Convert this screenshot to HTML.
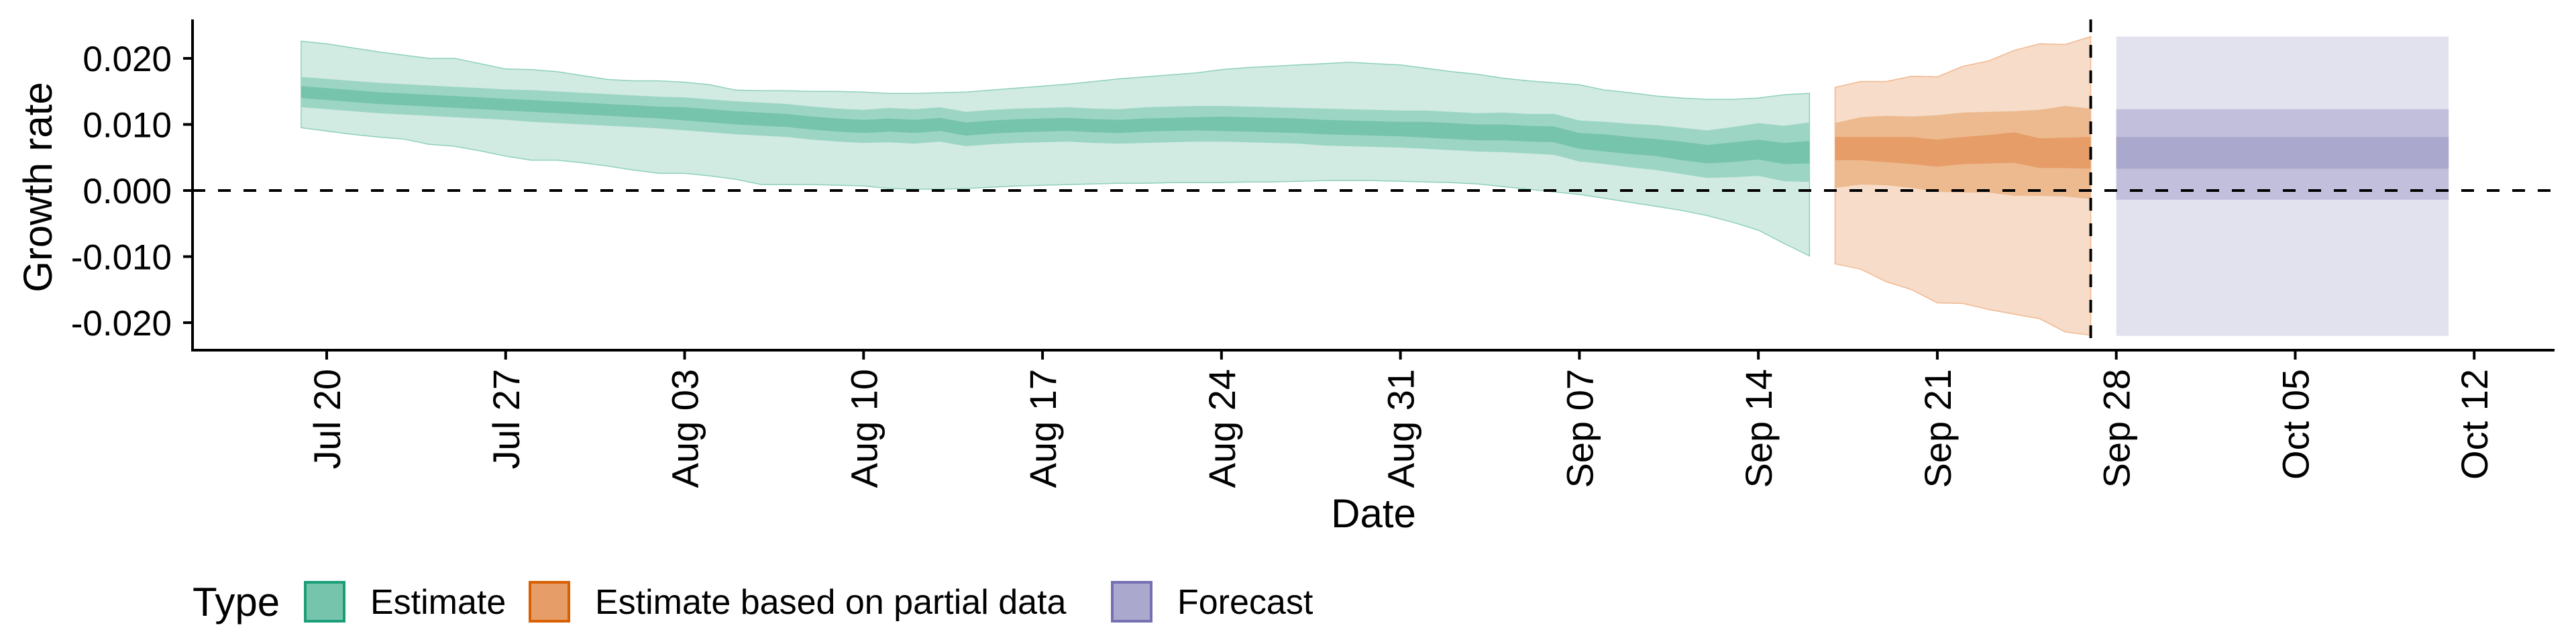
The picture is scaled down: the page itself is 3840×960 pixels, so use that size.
<!DOCTYPE html>
<html><head><meta charset="utf-8"><style>
html,body{margin:0;padding:0;background:#fff}
svg{display:block;font-family:"Liberation Sans",sans-serif}
</style></head><body>
<svg id="chart" width="3840" height="960" viewBox="0 0 3840 960" xmlns="http://www.w3.org/2000/svg">
<g id="bands"></g>
<g id="axes"></g>
<g id="legend"></g>
</svg>
<script>
// ---- data ----
const estStart = "2020-07-19";
const estMed = [.0149,.0146,.0143,.0140,.0138,.0136,.0134,.0132,.0130,.0128,
.0126,.0124,.0122,.0120,.0118,.0116,.0113,.0110,.0108,.0106,
.0102,.0099,.0097,.0099,.0097,.0100,.0093,.0096,.0098,.0099,
.0100,.0098,.0097,.0099,.0100,.0101,.0101,.0100,.0099,.0098,
.0096,.0095,.0094,.0093,.0092,.0090,.0088,.0088,.0086,.0085,
.0075,.0072,.0068,.0065,.0060,.0055,.0058,.0062,.0056,.0058];
const estW20 = [.0009,.0009,.0009,.0009,.0009,.0009,.0009,.0009,.0009,.0009,
.0009,.0009,.0009,.0009,.0009,.0010,.0010,.0010,.0010,.0010,
.0010,.0010,.0010,.0010,.0010,.0010,.0010,.0010,.0010,.0010,
.0010,.0010,.0010,.0010,.0010,.0010,.0011,.0011,.0011,.0011,
.0011,.0011,.0011,.0011,.0012,.0012,.0012,.0012,.0012,.0012,
.0012,.0013,.0013,.0013,.0014,.0014,.0015,.0015,.0016,.0017];
const estW50 = [.0023,.0023,.0023,.0023,.0023,.0023,.0023,.0023,.0023,.0024,
.0024,.0024,.0024,.0024,.0024,.0025,.0025,.0025,.0025,.0025,
.0025,.0025,.0025,.0026,.0026,.0026,.0026,.0026,.0026,.0026,
.0026,.0026,.0026,.0027,.0027,.0027,.0027,.0027,.0027,.0027,
.0028,.0028,.0028,.0028,.0029,.0029,.0029,.0030,.0030,.0031,
.0031,.0032,.0033,.0034,.0035,.0036,.0038,.0040,.0042,.0045];
const estHi90 = [.0226,.0222,.0216,.0210,.0205,.0200,.0200,.0192,.0184,.0183,
.0180,.0174,.0168,.0166,.0166,.0164,.0160,.0152,.0151,.0151,
.0150,.0150,.0149,.0147,.0147,.0148,.0149,.0152,.0155,.0158,
.0161,.0165,.0169,.0172,.0175,.0178,.0183,.0186,.0188,.0190,
.0192,.0194,.0192,.0190,.0185,.0180,.0176,.0170,.0166,.0163,
.0160,.0152,.0148,.0143,.0140,.0138,.0138,.0140,.0145,.0147];
const estLo90 = [.0095,.0090,.0085,.0081,.0078,.0070,.0067,.0060,.0052,.0046,
.0046,.0042,.0037,.0031,.0026,.0026,.0022,.0017,.0009,.0009,
.0009,.0008,.0007,.0003,.0002,.0002,.0003,.0005,.0007,.0008,
.0009,.0010,.0011,.0011,.0012,.0012,.0012,.0013,.0013,.0014,
.0015,.0015,.0015,.0014,.0013,.0012,.0010,.0006,.0002,-.0002,
-.0006,-.0012,-.0018,-.0024,-.0030,-.0038,-.0048,-.0060,-.0080,-.0099];

const partStart = "2020-09-17";
const partHi90 = [.0156,.0165,.0165,.0173,.0172,.0188,.0196,.0212,.0222,.0221,.0233];
const partLo90 = [-.0111,-.0119,-.0138,-.0150,-.0170,-.0171,-.0180,-.0187,-.0194,-.0214,-.0219];
const partHi50 = [.0102,.0111,.0113,.0112,.0114,.0118,.0119,.0120,.0122,.0128,.0124];
const partLo50 = [.0004,.0009,.0008,.0004,-.0002,-.0003,-.0003,-.0008,-.0008,-.0009,-.0013];
const partHi20 = [.0081,.0081,.0081,.0081,.0077,.0081,.0084,.0088,.0079,.0080,.0081];
const partLo20 = [.0046,.0046,.0043,.0040,.0036,.0040,.0041,.0042,.0034,.0034,.0033];

const fcStart = "2020-09-28";
const fcEnd = "2020-10-11";
const fcBands = [[-.0220,.0233],[-.0014,.0123],[.0033,.0081]];

const xTickLabels = ["Jul 20","Jul 27","Aug 03","Aug 10","Aug 17","Aug 24","Aug 31","Sep 07","Sep 14","Sep 21","Sep 28","Oct 05","Oct 12"];
const xTickDates = ["2020-07-20","2020-07-27","2020-08-03","2020-08-10","2020-08-17","2020-08-24","2020-08-31","2020-09-07","2020-09-14","2020-09-21","2020-09-28","2020-10-05","2020-10-12"];
const yTicks = [0.02,0.01,0,-0.01,-0.02];
const yTickLabels = ["0.020","0.010","0.000","-0.010","-0.020"];
const dataCutoff = "2020-09-27";

// ---- scales ----
const NS="http://www.w3.org/2000/svg";
const X0=287, X1=3808, Y0=522, Y1=29;
const DAY=86400000;
const refT=Date.parse("2020-07-20"), refX=487, pxDay=38.11;
function xs(d){return refX+(Date.parse(d)-refT)/DAY*pxDay;}
function xi(start,i){return xs(start)+i*pxDay;}
function ys(v){return 284 - v*9850;}
function mk(tag,attrs,parent){const e=document.createElementNS(NS,tag);for(const k in attrs)e.setAttribute(k,attrs[k]);parent.appendChild(e);return e;}
const bands=document.getElementById('bands'), axes=document.getElementById('axes'), legend=document.getElementById('legend');

function band(start,lo,hi,fill,stroke,name){
  let pts=[];
  for(let i=0;i<hi.length;i++)pts.push(xi(start,i).toFixed(1)+","+ys(hi[i]).toFixed(1));
  for(let i=lo.length-1;i>=0;i--)pts.push(xi(start,i).toFixed(1)+","+ys(lo[i]).toFixed(1));
  const p=mk('polygon',{points:pts.join(' '),fill:fill},bands);
  if(stroke){p.setAttribute('stroke',stroke);p.setAttribute('stroke-width','1.5');}
  
  
}
band(estStart,estLo90,estHi90,'#d1ebe2','#8fd0bb','estimate-band-90');
band(estStart,estMed.map((m,i)=>m-estW50[i]),estMed.map((m,i)=>m+estW50[i]),'#9dd5c4',null,'estimate-band-50');
band(estStart,estMed.map((m,i)=>m-estW20[i]),estMed.map((m,i)=>m+estW20[i]),'#77c4ad',null,'estimate-band-20');
band(partStart,partLo90,partHi90,'#f6dcc9','#f2b88f','partial-band-90');
band(partStart,partLo50,partHi50,'#edb98f',null,'partial-band-50');
band(partStart,partLo20,partHi20,'#e69d67',null,'partial-band-20');
const fcCols=['#e2e2ee','#c2bfdc','#aaa8cc'];
fcBands.forEach((b,k)=>{
  const r=mk('rect',{x:xs(fcStart),y:ys(b[1]),width:xs(fcEnd)-xs(fcStart),height:ys(b[0])-ys(b[1]),fill:fcCols[k]},bands);
  
  
});

const h=mk('line',{x1:X0,x2:X1,y1:ys(0),y2:ys(0),stroke:'#000','stroke-width':4,'stroke-dasharray':'19 19'},axes);


const v=mk('line',{x1:xs(dataCutoff),x2:xs(dataCutoff),y1:Y1,y2:Y0,stroke:'#000','stroke-width':4,'stroke-dasharray':'19 19'},axes);



const ya=mk('line',{x1:X0,x2:X0,y1:Y1,y2:Y0+2,stroke:'#000','stroke-width':4},axes);


const xa=mk('line',{x1:X0-2,x2:X1,y1:Y0,y2:Y0,stroke:'#000','stroke-width':4},axes);



yTicks.forEach((t,i)=>{
  const y=ys(t);
  mk('line',{x1:X0-14,x2:X0,y1:y,y2:y,stroke:'#000','stroke-width':4},axes);
  const tx=mk('text',{x:X0-31,y:y+19,'text-anchor':'end','font-size':53,fill:'#000'},axes);
  tx.textContent=yTickLabels[i];
  
  
});
xTickDates.forEach((d,i)=>{
  const x=xs(d);
  mk('line',{x1:x,x2:x,y1:Y0,y2:Y0+14,stroke:'#000','stroke-width':4},axes);
  const tx=mk('text',{x:0,y:0,'text-anchor':'end','font-size':56,fill:'#000',transform:`translate(${x+20},${Y0+28}) rotate(-90)`},axes);
  tx.textContent=xTickLabels[i];
  
  
});
const yt=mk('text',{x:0,y:0,'text-anchor':'middle','font-size':60,fill:'#000',transform:`translate(77,${279}) rotate(-90)`},axes);
yt.textContent='Growth rate';


const xt=mk('text',{x:(X0+X1)/2,y:786,'text-anchor':'middle','font-size':60,fill:'#000'},axes);
xt.textContent='Date';



const lt=mk('text',{x:287,y:918,'font-size':60,fill:'#000'},legend);
lt.textContent='Type';


const legItems=[['Estimate','#77c4ad','#1b9e77',455],['Estimate based on partial data','#e69d67','#d95f02',790],['Forecast','#aaa8cc','#7570b3',1658]];
legItems.forEach(it=>{
  const r=mk('rect',{x:it[3],y:868,width:58,height:58,fill:it[1],stroke:it[2],'stroke-width':4},legend);
  
  
  const t=mk('text',{x:it[3]+97,y:915,'font-size':52,fill:'#000'},legend);
  t.textContent=it[0];
  
  
});
</script>
</body></html>
